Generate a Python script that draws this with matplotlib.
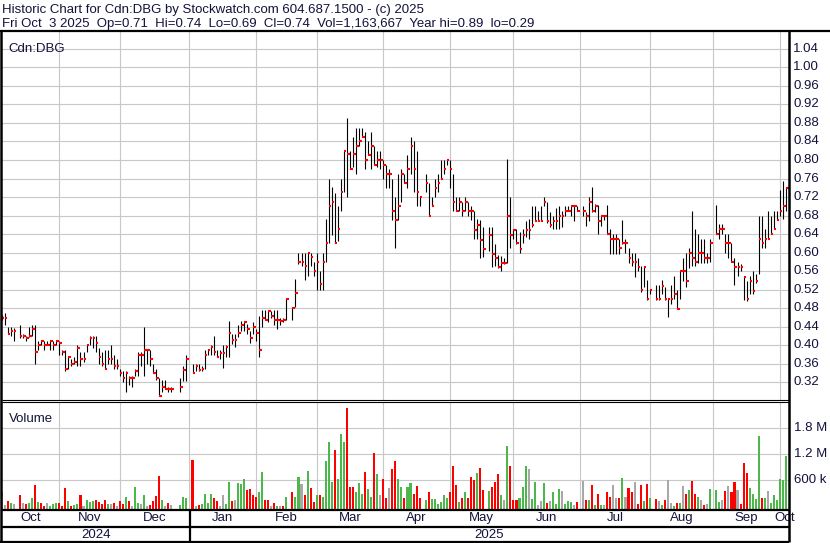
import numpy as np
import pandas as pd
import matplotlib
matplotlib.use("Agg")
import matplotlib.pyplot as plt
from matplotlib.lines import Line2D

# daily bars, Oct 7 2024 - Oct 3 2025 (weekdays minus market holidays)
start_day = "2024-10-07"
end_day = "2025-10-03"
holidays = ["2024-10-14", "2024-12-25", "2024-12-26", "2025-01-01", "2025-02-17",
            "2025-04-18", "2025-05-19", "2025-07-01", "2025-08-04", "2025-09-01"]

high = [
    # Oct 2024
    .465, .47, .44, .44, .438, .445, .425, .42, .44, .445, .445, .41, .41, .41, .41, .41, .41, .41,
    # Nov
    .41, .39, .39, .375, .37, .375, .40, .385, .385, .40, .42, .42, .42, .395, .385, .39, .39, .40, .38, .37, .35,
    # Dec
    .345, .345, .335, .335, .35, .385, .385, .44, .39, .39, .36, .35, .33, .325, .325, .31, .31, .33, .356, .38,
    # Jan 2025
    .36, .36, .36, .355, .39, .392, .40, .42, .39, .39, .40, .40, .453, .425, .425, .443, .453, .453, .447, .432, .45, .436,
    # Feb
    .463, .476, .477, .477, .475, .477, .477, .46, .46, .50, .482, .544, .60, .60, .60, .60, .60, .58, .60,
    # Mar
    .56, .60, .672, .76, .742, .728, .70, .76, .82, .89, .82, .85, .87, .87, .87, .86, .84, .86, .83, .82, .82,
    # Apr
    .80, .79, .78, .76, .72, .77, .78, .77, .81, .85, .84, .82, .72, .77, .75, .72, .76, .77, .80, .80, .80,
    # May
    .80, .77, .72, .72, .71, .72, .71, .70, .69, .673, .671, .655, .655, .655, .618, .596, .593, .589, .802, .72, .65,
    # Jun
    .651, .644, .651, .669, .673, .70, .70, .69, .70, .72, .709, .687, .68, .697, .70, .69, .70, .70, .70, .70, .70,
    # Jul
    .70, .687, .72, .742, .705, .702, .68, .68, .702, .651, .64, .64, .629, .67, .629, .61, .60, .60, .589, .571, .571, .542,
    # Aug
    .52, .53, .53, .542, .527, .50, .53, .549, .52, .56, .589, .60, .611, .69, .651, .64, .629, .629, .60, .629,
    # Sep
    .702, .662, .662, .64, .64, .62, .589, .58, .575, .549, .538, .549, .56, .553, .68, .68, .651, .69, .68, .69, .69,
    # Oct 2025
    .735, .755, .74,
]

low = [
    .455, .445, .424, .42, .41, .415, .415, .41, .418, .42, .36, .39, .40, .39, .40, .39, .39, .40,
    .38, .38, .345, .35, .355, .36, .355, .355, .365, .385, .40, .395, .385, .36, .355, .35, .36, .36, .35, .35, .335,
    .32, .30, .315, .31, .335, .335, .355, .335, .36, .355, .34, .325, .29, .30, .305, .30, .30, .30, .324, .324,
    .34, .345, .345, .345, .35, .38, .38, .38, .375, .37, .352, .375, .375, .404, .397, .418, .432, .432, .425, .405, .425, .41,
    .375, .44, .455, .45, .46, .443, .436, .445, .45, .454, .454, .482, .575, .571, .542, .55, .571, .55, .52,
    .52, .52, .58, .62, .638, .62, .625, .69, .73, .72, .78, .785, .77, .83, .85, .78, .81, .78, .79, .785, .78,
    .76, .74, .74, .67, .61, .67, .71, .75, .74, .77, .73, .70, .70, .73, .68, .70, .72, .73, .76, .77, .79,
    .74, .69, .69, .69, .68, .69, .68, .67, .629, .629, .589, .59, .604, .57, .571, .567, .56, .575, .578, .611, .629,
    .618, .60, .62, .633, .629, .655, .669, .669, .669, .70, .665, .655, .651, .651, .651, .655, .68, .69, .68, .669, .69,
    .68, .658, .669, .687, .687, .64, .658, .67, .64, .598, .598, .598, .598, .618, .60, .578, .571, .547, .56, .515, .527, .498,
    .51, .498, .498, .51, .498, .462, .49, .50, .478, .50, .538, .527, .567, .571, .571, .578, .578, .578, .578, .58,
    .64, .629, .64, .60, .589, .58, .53, .55, .56, .498, .495, .51, .51, .535, .553, .611, .611, .629, .64, .651, .67,
    .68, .672, .69,
]

close = [
    .46, .46, .424, .43, .43, .42, .42, .415, .42, .435, .385, .40, .41, .40, .40, .41, .40, .41,
    .405, .385, .35, .375, .36, .365, .395, .37, .37, .40, .415, .415, .405, .375, .36, .35, .37, .37, .355, .355, .34,
    .33, .34, .33, .33, .345, .38, .38, .39, .39, .37, .34, .33, .29, .31, .305, .305, .305, .31, .346, .37,
    .34, .355, .346, .35, .38, .39, .396, .385, .375, .383, .383, .396, .427, .412, .412, .427, .445, .45, .435, .415, .44, .427,
    .39, .46, .455, .475, .464, .454, .455, .452, .454, .50, .48, .512, .58, .58, .572, .60, .591, .561, .58,
    .532, .58, .62, .70, .71, .62, .652, .73, .82, .812, .78, .812, .83, .84, .85, .80, .81, .83, .79, .80, .80,
    .79, .77, .77, .69, .67, .70, .77, .75, .78, .83, .78, .73, .72, .75, .68, .70, .74, .75, .76, .78, .80,
    .78, .71, .69, .71, .69, .71, .69, .69, .65, .66, .628, .609, .639, .598, .589, .569, .578, .578, .679, .639, .65,
    .62, .609, .639, .65, .65, .659, .669, .669, .669, .709, .669, .659, .669, .669, .679, .679, .689, .689, .70, .70, .689,
    .69, .679, .709, .69, .70, .669, .679, .679, .64, .629, .629, .629, .61, .62, .62, .589, .58, .58, .569, .519, .569, .50,
    .519, .50, .50, .529, .50, .50, .50, .51, .478, .56, .56, .54, .60, .589, .58, .60, .60, .589, .589, .62,
    .64, .651, .651, .62, .62, .58, .569, .569, .569, .547, .50, .54, .518, .54, .629, .62, .629, .629, .64, .651, .67,
    .69, .70, .74,
]

# volume in millions of shares
volume = [
    .34, .03, .12, .085, .055, .26, .085, .06, .085, .20, .49, .11, .07, .01, .085, .01, .06, .085,
    .085, .01, .43, .12, .015, .03, .06, .25, .01, .15, .11, .13, .15, .11, .055, .15, .045, .055, .085, .01, .12,
    .06, .22, .12, .015, .45, .085, .06, .26, .01, .03, .12, .24, .71, .15, .015, .085, .03, .03, .22, .20,
    1.07, .01, .03, .06, .28, .085, .28, .20, .12, .015, .26, .06, .55, .12, .15, .54, .52, .63, .38, .40, .26, .22,
    .34, .79, .15, .15, .015, .085, .015, .01, .01, .22, .32, .22, .68, .52, .26, .82, .43, .11, .25,
    .26, .22, 1.05, 1.48, .57, 1.30, .63, 1.67, 1.48, 2.28, .45, .45, .34, .54, .28, .79, .40, .22, 1.23, .75, .25,
    .63, .20, .42, .86, 1.05, .63, .45, .20, .45, .54, .28, .48, .20, .15, .32, .18, .18, .06, .11, .26, .20,
    .34, .92, .50, .11, .20, .34, .20, .68, .61, .77, .89, .38, .36, .45, .56, .75, .25, .15, 1.40, .94, .15,
    .15, .20, .45, .94, .87, .18, .56, .03, .12, .54, .085, .12, .34, .06, .39, .35, .06, .12, .11, .03, .11,
    .58, .15, .15, .50, .03, .28, .03, .03, .32, .22, .49, .20, .20, .65, .22, .42, .34, .55, .06, .50, .12, .52,
    .20, .18, .12, .03, .15, .60, .085, .015, .085, .085, .48, .28, .38, .58, .29, .22, .14, .03, .055, .40,
    .38, .11, .15, .35, .48, .34, .55, .37, .06, 1.00, .77, .42, .29, .18, 1.62, .19, .19, .35, .075, .26, .15,
    .63, .61, 1.163667,
]

# g = up day, r = down day, n = unchanged
vol_dir = (
    "nnrgnrnrggrgrrnggg"
    "rrrgrggrngggrrrrgnrnr"
    "rgrnggngnrrrrgnrnggg"
    "rnrggggrrnnggrngggrrrr"
    "ggrrnrgnrgrggnrgrrg"
    "rggggrgggrrrgggrggrgn"
    "rrnrrggrggrrrgrgggggg"
    "rrrgrgrrrgrrgrrrgngrr"
    "rgggnggnngrngggngggnr"
    "nrgrgrgnrrnnrgnrrnrrgr"
    "grngrnngrgnrgrrgnrng"
    "ggnrnrrnrrrggggrgnggg"
    "ggg"
)

price_ticks = [0.32, 0.36, 0.40, 0.44, 0.48, 0.52, 0.56, 0.60, 0.64, 0.68,
               0.72, 0.76, 0.80, 0.84, 0.88, 0.92, 0.96, 1.00, 1.04]
vol_ticks = [0.6, 1.2, 1.8]
vol_tick_labels = ["600 k", "1.2 M", "1.8 M"]
month_names = ["Oct", "Nov", "Dec", "Jan", "Feb", "Mar", "Apr", "May", "Jun",
               "Jul", "Aug", "Sep", "Oct"]
month_starts = ["2024-11-01", "2024-12-01", "2025-01-01", "2025-02-01", "2025-03-01",
                "2025-04-01", "2025-05-01", "2025-06-01", "2025-07-01", "2025-08-01",
                "2025-09-01", "2025-10-01"]

header1 = "Historic Chart for Cdn:DBG by Stockwatch.com 604.687.1500 - (c) 2025"
header2 = ("Fri Oct  3 2025  Op=0.71  Hi=0.74  Lo=0.69  Cl=0.74  "
           "Vol=1,163,667  Year hi=0.89  lo=0.29")

# ---------------------------------------------------------------
days = pd.bdate_range(start_day, end_day)
days = days[~days.isin(pd.to_datetime(holidays))]
origin = np.datetime64("2024-10-03")
x = np.busday_count(origin, days.values.astype("datetime64[D]"))

n = len(x)
assert len(high) == n and len(low) == n and len(close) == n
assert len(volume) == n and len(vol_dir) == n

grid_x = [np.busday_count(origin, np.busday_offset(d, 0, roll="backward"))
          for d in month_starts]
x_lo, x_hi = 2.08, 262.0
year_split = grid_x[2]

W, H = 830, 543
def box(x0, y0, x1, y1):
    return [x0 / W, 1 - y1 / H, (x1 - x0) / W, (y1 - y0) / H]

fig = plt.figure(figsize=(W / 100, H / 100), dpi=100, facecolor="white")
plt.rcParams["font.family"] = ["Liberation Sans", "DejaVu Sans"]
txt = "#12123c"
fs = 9.5
grid_c = "#c8c8c8"

def fline(xs, ys, lw=1.5, color="black"):
    fig.add_artist(Line2D([v / W for v in xs], [1 - v / H for v in ys], lw=lw,
                          color=color, transform=fig.transFigure,
                          solid_capstyle="butt"))

# price panel
ax = fig.add_axes(box(2, 32, 789, 400))
ax.set_xlim(x_lo, x_hi)
ax.set_ylim(0.2822, 1.0762)
for p in price_ticks:
    ax.axhline(p, color=grid_c, lw=0.8, zorder=0)
for g in grid_x:
    ax.axvline(g, color=grid_c, lw=0.8, zorder=0)
ax.vlines(x, low, high, color="black", lw=0.8, zorder=2)
ax.hlines(close, x, x + 0.85, color="#ff0000", lw=1.5, zorder=3)
ax.axis("off")
ax.text(0.008, 0.97, "Cdn:DBG", transform=ax.transAxes, fontsize=fs,
        color=txt, va="top", ha="left")

# volume panel
vmin = -0.062
axv = fig.add_axes(box(2, 402, 789, 509))
axv.set_xlim(x_lo, x_hi)
axv.set_ylim(vmin, 2.407)
for v in vol_ticks:
    axv.axhline(v, color=grid_c, lw=0.8, zorder=0)
for g in grid_x:
    axv.axvline(g, color=grid_c, lw=0.8, zorder=0)
cmap = {"g": "#4cb84c", "r": "#ff0000", "n": "#a8a8a8"}
axv.bar(x, np.array(volume) - vmin, bottom=vmin, width=0.68,
        color=[cmap[c] for c in vol_dir], zorder=2)
axv.axis("off")
axv.text(0.009, 0.9, "Volume", transform=axv.transAxes, fontsize=fs,
         color=txt, va="top", ha="left")

# right-hand scale labels
for p in price_ticks:
    yp = 252.7 + (0.60 - p) * 463.5
    fig.text(793 / W, 1 - yp / H, f"{p:.2f}", fontsize=fs, color=txt,
             va="center", ha="left")
for v, lab in zip(vol_ticks, vol_tick_labels):
    yp = 506.3 - v / 0.6 * 26
    fig.text(794 / W, 1 - yp / H, lab, fontsize=fs, color=txt,
             va="center", ha="left")

# date rows
axd = fig.add_axes(box(2, 509, 789, 541))
axd.set_xlim(x_lo, x_hi)
axd.set_ylim(541, 509)
axd.axis("off")
edges = [x_lo] + grid_x + [x_hi]
for name, a, b in zip(month_names, edges[:-1], edges[1:]):
    axd.text((a + b) / 2, 518, name, fontsize=fs, color=txt,
             ha="center", va="center", clip_on=False)
axd.text((x_lo + year_split) / 2, 534.5, "2024", fontsize=fs, color=txt,
         ha="center", va="center")
axd.text((year_split + x_hi) / 2, 534.5, "2025", fontsize=fs, color=txt,
         ha="center", va="center")
sx = 59.3 + (year_split - 21) * 3.028

# header
fig.text(2 / W, 1 - 13.5 / H, header1, fontsize=fs, color=txt, va="baseline")
fig.text(2 / W, 1 - 27 / H, header2, fontsize=fs, color=txt, va="baseline")

# frame lines
fline([0, 830], [31, 31], lw=1.6)
fline([1, 1], [31, 542], lw=1.8)
fline([789, 789], [31, 542], lw=1.8)
fline([2, 789], [399.5, 399.5], lw=0.8)
fline([2, 789], [402, 402], lw=0.8)
fline([2, 789], [509.5, 509.5], lw=1.6)
fline([2, 789], [527, 527], lw=1.6)
fline([0, 789], [541.5, 541.5], lw=1.6)
fline([sx, sx], [509, 541], lw=1.6)

fig.savefig("out.png", dpi=100, facecolor="white")
